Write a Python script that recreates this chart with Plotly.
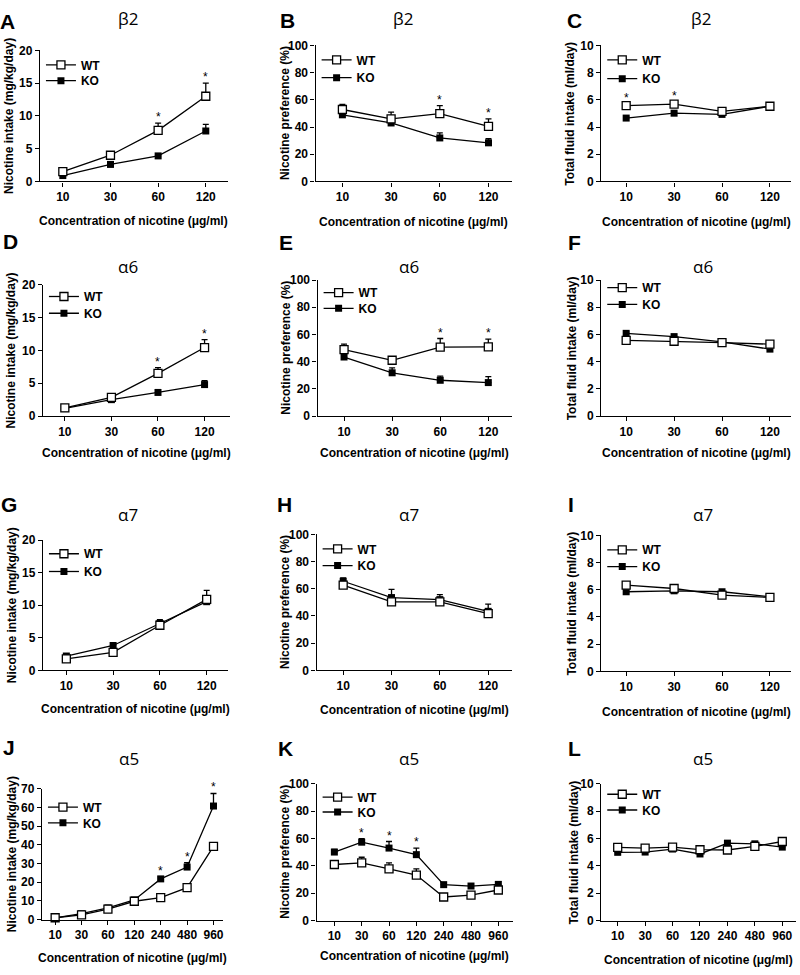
import plotly.graph_objects as go

W, H = 800, 975
FONT = "Liberation Sans, Arial, sans-serif"
TFONT = "Open Sans, Noto Sans, sans-serif"

conc4 = ["10", "30", "60", "120"]
conc7 = ["10", "30", "60", "120", "240", "480", "960"]

ytitle_intake = "Nicotine intake (mg/kg/day)"
ytitle_pref = "Nicotine preference (%)"
ytitle_fluid = "Total fluid intake (ml/day)"
xtitle = "Concentration of nicotine (μg/ml)"

# ---- data (mean, upper SEM) ----
a_wt = [1.5, 4.0, 7.8, 13.0];      a_wt_err = [0.3, 0.4, 1.1, 2.0]
a_ko = [0.9, 2.6, 3.9, 7.7];       a_ko_err = [0.2, 0.2, 0.3, 1.0]
a_stars = [2, 3]

b_wt = [52.9, 46.0, 49.8, 40.5];   b_wt_err = [3.8, 5.0, 6.0, 5.5]
b_ko = [49.0, 43.0, 32.0, 28.4];   b_ko_err = [2.0, 1.5, 3.7, 3.0]
b_stars = [2, 3]

c_wt = [5.58, 5.68, 5.15, 5.53];   c_wt_err = [0.15, 0.15, 0.1, 0.1]
c_ko = [4.66, 5.02, 4.93, 5.53];   c_ko_err = [0.1, 0.1, 0.1, 0.1]
c_stars = [0, 1]

d_wt = [1.26, 2.86, 6.5, 10.45];   d_wt_err = [0.2, 0.2, 0.9, 1.2]
d_ko = [1.16, 2.5, 3.6, 4.8];      d_ko_err = [0.2, 0.2, 0.3, 0.6]
d_stars = [2, 3]

e_wt = [48.9, 41.0, 50.6, 50.8];   e_wt_err = [4.0, 2.5, 6.4, 5.8]
e_ko = [43.4, 31.8, 26.3, 24.6];   e_ko_err = [1.5, 3.6, 3.1, 4.4]
e_stars = [2, 3]

f_wt = [5.57, 5.5, 5.4, 5.28];     f_wt_err = [0.1, 0.1, 0.1, 0.1]
f_ko = [6.08, 5.84, 5.45, 4.92];   f_ko_err = [0.1, 0.1, 0.1, 0.1]
f_stars = []

g_wt = [1.76, 2.76, 6.93, 10.9];   g_wt_err = [0.2, 0.2, 0.3, 1.4]
g_ko = [2.2, 3.82, 7.2, 10.55];    g_ko_err = [0.2, 0.3, 0.6, 0.6]
g_stars = []

h_wt = [62.6, 50.4, 50.4, 41.7];   h_wt_err = [2.0, 2.0, 2.0, 2.0]
h_ko = [65.5, 53.5, 52.0, 43.4];   h_ko_err = [2.5, 6.0, 3.7, 5.3]
h_stars = []

i_wt = [6.33, 6.09, 5.6, 5.43];    i_wt_err = [0.1, 0.1, 0.1, 0.1]
i_ko = [5.85, 5.92, 5.85, 5.48];   i_ko_err = [0.1, 0.1, 0.1, 0.1]
i_stars = []

j_wt = [1.05, 2.6, 5.6, 9.85, 11.8, 17.1, 39.2]
j_wt_err = [0.5, 0.5, 0.5, 0.8, 1.0, 1.0, 1.8]
j_ko = [1.0, 3.2, 6.3, 10.55, 21.8, 28.1, 60.7]
j_ko_err = [0.5, 0.5, 0.8, 1.0, 1.0, 2.3, 6.7]
j_stars = [4, 5, 6]

k_wt = [41.0, 42.2, 37.8, 33.3, 17.3, 18.6, 22.4]
k_wt_err = [2.9, 4.1, 4.4, 4.5, 1.2, 1.2, 1.5]
k_ko = [50.1, 57.3, 53.0, 48.2, 26.3, 25.3, 26.5]
k_ko_err = [2.0, 2.5, 4.8, 4.8, 1.5, 1.2, 2.0]
k_stars = [1, 2, 3]

l_wt = [5.35, 5.3, 5.37, 5.18, 5.16, 5.42, 5.78]
l_wt_err = [0.15, 0.15, 0.15, 0.15, 0.15, 0.15, 0.15]
l_ko = [4.99, 5.01, 5.23, 4.87, 5.66, 5.61, 5.37]
l_ko_err = [0.15, 0.15, 0.15, 0.15, 0.15, 0.15, 0.15]
l_stars = []

panels = [
    ("A", "β2", conc4, a_wt, a_wt_err, a_ko, a_ko_err, 20, 5, ytitle_intake, a_stars),
    ("B", "β2", conc4, b_wt, b_wt_err, b_ko, b_ko_err, 100, 20, ytitle_pref, b_stars),
    ("C", "β2", conc4, c_wt, c_wt_err, c_ko, c_ko_err, 10, 2, ytitle_fluid, c_stars),
    ("D", "α6", conc4, d_wt, d_wt_err, d_ko, d_ko_err, 20, 5, ytitle_intake, d_stars),
    ("E", "α6", conc4, e_wt, e_wt_err, e_ko, e_ko_err, 100, 20, ytitle_pref, e_stars),
    ("F", "α6", conc4, f_wt, f_wt_err, f_ko, f_ko_err, 10, 2, ytitle_fluid, f_stars),
    ("G", "α7", conc4, g_wt, g_wt_err, g_ko, g_ko_err, 20, 5, ytitle_intake, g_stars),
    ("H", "α7", conc4, h_wt, h_wt_err, h_ko, h_ko_err, 100, 20, ytitle_pref, h_stars),
    ("I", "α7", conc4, i_wt, i_wt_err, i_ko, i_ko_err, 10, 2, ytitle_fluid, i_stars),
    ("J", "α5", conc7, j_wt, j_wt_err, j_ko, j_ko_err, 70, 10, ytitle_intake, j_stars),
    ("K", "α5", conc7, k_wt, k_wt_err, k_ko, k_ko_err, 100, 20, ytitle_pref, k_stars),
    ("L", "α5", conc7, l_wt, l_wt_err, l_ko, l_ko_err, 10, 2, ytitle_fluid, l_stars),
]

# ---- layout geometry in pixels ----
# (x0, x1, ytop, ybot, xr0, xr1, ytitle_x, title_x, title_y, letter_x, letter_y,
#  legend_text_x, leg_wt_y, leg_ko_y, xtitle_y)
geom = [
    (40, 228, 44, 177, -0.48, 3.46, 9, 128, 12, 8, 15, 73, 58, 74, 217),
    (316, 513, 39, 177, -0.55, 3.49, 286, 404, 12, 288, 14, 350, 53, 71, 218),
    (602, 792, 39, 177, -0.52, 3.44, 571, 702, 12, 575, 14, 634, 53, 72, 218),
    (43, 230, 282, 415, -0.47, 3.54, 12, 128, 263, 11, 238, 72, 293, 310, 453),
    (318, 513, 277, 415, -0.55, 3.5, 286, 410, 263, 286, 239, 350, 289, 305, 453),
    (602, 792, 277, 415, -0.52, 3.44, 573, 704, 263, 575, 239, 632, 284, 301, 453),
    (43, 228, 541, 673, -0.5, 3.45, 12, 128, 515, 9, 505, 70, 554, 572, 712),
    (317, 513, 535, 673, -0.55, 3.5, 286, 410, 515, 285, 505, 350, 549, 566, 713),
    (602, 792, 536, 674, -0.52, 3.44, 573, 704, 515, 572, 505, 633, 550, 567, 715),
    (42, 223, 793, 926, -0.5, 6.35, 12, 129, 762, 9, 751, 78, 811, 827, 965),
    (317, 514, 788, 927, -0.65, 6.55, 286, 410, 762, 286, 752, 350, 801, 816, 963),
    (602, 797, 788, 927, -0.6, 6.5, 575, 704, 762, 575, 752, 637, 798, 814, 967),
]

fig = go.Figure()
annotations = []
layout = dict(
    width=W, height=H, margin=dict(l=0, r=0, t=0, b=0),
    plot_bgcolor="white", paper_bgcolor="white", showlegend=True,
)

LW = 1.3
tickfont = dict(family=FONT, size=12, color="black", weight="bold")

for n, (p, g) in enumerate(zip(panels, geom), start=1):
    letter, title, cats, wt, wt_err, ko, ko_err, ymax, dtick, ytitle, stars = p
    (x0, x1, yt, yb, xr0, xr1, ytx, tx, ty, lx, ly, legx, legwy, legky, xty) = g
    xa = "x" if n == 1 else f"x{n}"
    ya = "y" if n == 1 else f"y{n}"
    lw_id = f"legend{2 * n - 1}" if n > 1 else "legend"
    lk_id = f"legend{2 * n}"

    fig.add_trace(go.Scatter(
        x=cats, y=ko, mode="lines+markers", name="KO",
        xaxis=xa, yaxis=ya, legend=lk_id, cliponaxis=False,
        line=dict(color="black", width=LW),
        marker=dict(symbol="square", size=7, color="black"),
        error_y=dict(type="data", symmetric=False, array=ko_err,
                     arrayminus=[0] * len(ko), color="black", thickness=LW, width=3),
    ))
    fig.add_trace(go.Scatter(
        x=cats, y=wt, mode="lines+markers", name="WT",
        xaxis=xa, yaxis=ya, legend=lw_id, cliponaxis=False,
        line=dict(color="black", width=LW),
        marker=dict(symbol="square", size=8, color="white",
                    line=dict(color="black", width=LW)),
        error_y=dict(type="data", symmetric=False, array=wt_err,
                     arrayminus=[0] * len(wt), color="black", thickness=LW, width=3),
    ))

    layout["xaxis" if n == 1 else f"xaxis{n}"] = dict(
        domain=[x0 / W, x1 / W], anchor=ya, type="category",
        categoryorder="array", categoryarray=cats, range=[xr0, xr1],
        showline=True, linecolor="black", linewidth=LW, mirror=False,
        ticks="outside", ticklen=4, tickwidth=LW, tickcolor="black",
        tickfont=tickfont, showgrid=False, zeroline=False, fixedrange=True,
    )
    layout["yaxis" if n == 1 else f"yaxis{n}"] = dict(
        domain=[1 - yb / H, 1 - yt / H], anchor=xa, range=[0, ymax],
        dtick=dtick, tick0=0,
        showline=True, linecolor="black", linewidth=LW,
        ticks="outside", ticklen=4, tickwidth=LW, tickcolor="black",
        tickfont=tickfont, showgrid=False, zeroline=False, fixedrange=True,
    )
    legfont = dict(family=FONT, size=12, color="black", weight="bold")
    lgx = max(legx - 38, x0 + 1)
    layout[lw_id] = dict(x=lgx / W, y=1 - (legwy - 14) / H,
                         xanchor="left", yanchor="top", bgcolor="rgba(0,0,0,0)",
                         font=legfont, borderwidth=0)
    layout[lk_id] = dict(x=lgx / W, y=1 - (legky - 14) / H,
                         xanchor="left", yanchor="top", bgcolor="rgba(0,0,0,0)",
                         font=legfont, borderwidth=0)

    # panel letter
    annotations.append(dict(text=letter, x=lx / W, y=1 - ly / H, xref="paper", yref="paper",
                            showarrow=False, xanchor="center", yanchor="middle",
                            font=dict(family=FONT, size=21, color="black", weight="bold")))
    # subunit title
    annotations.append(dict(text=title, x=tx / W, y=1 - ty / H, xref="paper", yref="paper",
                            showarrow=False, xanchor="center", yanchor="middle",
                            font=dict(family=TFONT, size=17, color="black")))
    # y axis title
    annotations.append(dict(text=ytitle, x=ytx / W, y=1 - (yt + yb) / 2 / H,
                            xref="paper", yref="paper", textangle=-90,
                            showarrow=False, xanchor="center", yanchor="middle",
                            font=dict(family=FONT, size=12, color="black", weight="bold")))
    # x axis title
    annotations.append(dict(text=xtitle, x=(x0 + x1) / 2 / W, y=1 - xty / H,
                            xref="paper", yref="paper",
                            showarrow=False, xanchor="center", yanchor="middle",
                            font=dict(family=FONT, size=12, color="black", weight="bold")))
    # significance stars (category axis: x given as category index)
    for i in stars:
        top = max(wt[i] + wt_err[i], ko[i] + ko_err[i])
        annotations.append(dict(text="*", x=i, y=top, xref=xa, yref=ya,
                                showarrow=False, xanchor="center", yanchor="middle",
                                yshift=6, font=dict(family=FONT, size=12, color="black")))

layout["annotations"] = annotations
fig.update_layout(**layout)
fig.write_html("out.html", config={"displayModeBar": False},
               post_script="document.body.style.margin='0';document.body.style.padding='0';")
